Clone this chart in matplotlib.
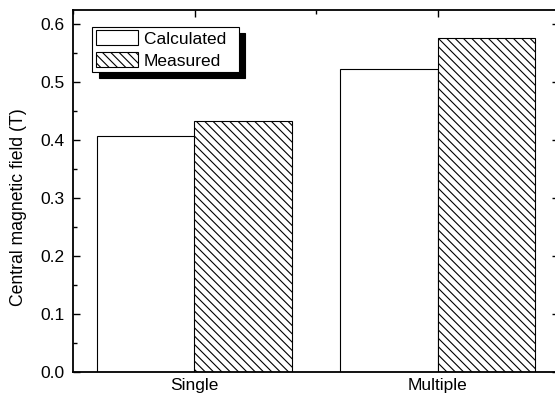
import matplotlib.pyplot as plt
import numpy as np
from matplotlib.ticker import MultipleLocator

plt.rcParams['font.family'] = ['Liberation Sans', 'DejaVu Sans']
plt.rcParams['hatch.linewidth'] = 0.8

# data
categories = ['Single', 'Multiple']
calculated = [0.407, 0.522]
measured = [0.433, 0.576]

fig = plt.figure(figsize=(5.55, 3.96), dpi=100)
# axes run slightly past the right edge of the figure, as in the scan
ax = fig.add_axes([73 / 555, 24 / 396, 486 / 555, 362 / 396])

x = np.arange(1, len(categories) + 1)
w = 0.4
ax.bar(x - w / 2, calculated, w, color='white', edgecolor='black',
       linewidth=0.8, label='Calculated  ')
ax.bar(x + w / 2, measured, w, color='white', edgecolor='black',
       linewidth=0.8, hatch='\\\\\\\\', label='Measured')

ax.set_xlim(0.5, 2.5)
ax.set_ylim(0, 0.624)
ax.set_xticks(x)
ax.set_xticklabels(categories, fontsize=12)
ax.xaxis.set_minor_locator(MultipleLocator(0.5))
ax.yaxis.set_major_locator(MultipleLocator(0.1))
ax.yaxis.set_minor_locator(MultipleLocator(0.05))
ax.yaxis.set_major_formatter(plt.FormatStrFormatter('%.1f'))
ax.tick_params(which='both', direction='in', top=True, right=True,
               labelsize=12.5, width=1)
ax.tick_params(which='major', length=5)
ax.tick_params(which='minor', length=3)
ax.tick_params(axis='x', which='both', bottom=False, pad=4)
ax.tick_params(axis='y', pad=6)
for s in ax.spines.values():
    s.set_linewidth(1.3)

ax.set_ylabel('Central magnetic field (T)', fontsize=12.7)
ax.yaxis.set_label_coords(-46 / 486, 0.456)

leg = ax.legend(loc='upper left', bbox_to_anchor=(0.040, 0.953), fontsize=12.5,
                frameon=True, fancybox=False,
                shadow={'color': 'black', 'alpha': 1, 'ox': 4.5, 'oy': -4.5},
                handlelength=2.4, handleheight=0.95, handletextpad=0.35,
                borderpad=0.2, labelspacing=0.3, borderaxespad=0)
leg.get_frame().set_edgecolor('black')
leg.get_frame().set_linewidth(0.8)

fig.savefig('out.png', dpi=100)
